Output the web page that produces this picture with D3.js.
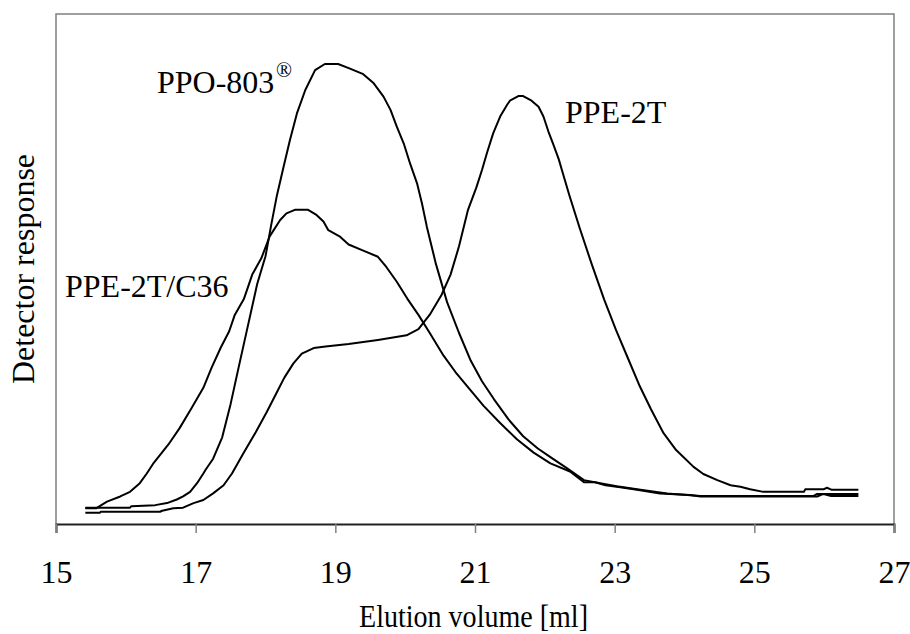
<!DOCTYPE html>
<html>
<head>
<meta charset="utf-8">
<script src="https://cdn.jsdelivr.net/npm/d3@7"></script>
<style>
  html, body { margin: 0; padding: 0; background: #fff; }
  svg { display: block; }
  text { font-family: "Liberation Serif", "Times New Roman", serif; fill: #000; }
</style>
</head>
<body>
<svg id="chart" width="910" height="634"></svg>
<script>
// ---- data (elution volume in ml, detector response in arbitrary units, 0-100 = axis range) ----
const xTicks = [15, 17, 19, 21, 23, 25, 27];
const xTitle = "Elution volume [ml]";
const yTitle = "Detector response";
const labels = ["PPO-803", "PPE-2T", "PPE-2T/C36"];

const ppoVolume = [15.42,16.06,16.08,16.42,16.59,16.73,16.82,16.92,17.02,17.11,17.14,17.25,17.38,17.50,17.62,17.75,17.88,18.00,18.08,18.16,18.26,18.35,18.45,18.57,18.71,18.85,19.04,19.21,19.40,19.55,19.69,19.79,19.88,19.98,20.07,20.17,20.24,20.31,20.44,20.60,20.77,20.94,21.10,21.27,21.48,21.69,21.90,22.08,22.32,22.56,22.79,23.03,23.37,23.75,24.23,25.85,25.90,26.49];
const ppoResponse = [3.2,3.2,3.5,3.7,4.1,4.8,5.4,6.3,8.0,9.9,10.6,12.8,17.0,23.5,31.0,39.0,47.0,52.5,58.5,64.2,70.1,75.3,80.5,85.1,89.0,90.2,90.2,89.3,88.2,86.4,83.8,81.2,77.9,74.6,70.7,66.8,62.9,58.3,51.0,43.5,37.5,32.0,28.0,24.5,20.5,17.2,14.8,13.1,10.9,8.6,8.0,7.4,6.7,6.0,5.5,5.5,5.9,5.9];

const c36Volume = [15.42,15.58,15.73,15.92,16.06,16.20,16.30,16.40,16.61,16.77,16.94,17.11,17.23,17.36,17.48,17.56,17.69,17.81,17.94,18.06,18.21,18.30,18.42,18.61,18.73,18.83,18.90,19.06,19.19,19.40,19.61,19.73,19.88,20.03,20.19,20.35,20.55,20.72,20.92,21.12,21.36,21.60,21.84,22.08,22.36,22.56,22.72,22.87,23.08,23.32,23.65,24.08,24.23,25.90,25.99,26.10,26.49];
const c36Response = [3.1,3.1,4.4,5.4,6.3,8.0,9.9,12.0,15.6,18.8,22.7,26.7,30.7,34.6,37.8,41.0,44.1,48.9,52.1,56.4,59.6,60.9,61.6,61.6,60.6,59.3,57.6,56.4,54.8,53.6,52.4,50.4,47.5,44.2,41.0,37.5,33.0,29.8,26.5,23.2,19.8,16.6,14.0,11.9,10.3,8.2,8.2,7.6,7.2,6.7,6.0,5.7,5.4,5.4,5.9,5.5,5.5];

const ppe2tVolume = [15.42,15.63,15.64,16.49,16.52,16.68,16.82,16.97,17.11,17.25,17.40,17.52,17.69,17.86,18.02,18.15,18.27,18.40,18.52,18.69,18.86,19.19,19.61,20.02,20.19,20.35,20.52,20.65,20.77,20.90,21.02,21.10,21.17,21.26,21.36,21.46,21.50,21.62,21.69,21.81,21.91,21.98,22.05,22.12,22.20,22.24,22.35,22.50,22.67,22.85,23.02,23.19,23.36,23.52,23.70,23.88,23.98,24.13,24.27,24.47,24.66,24.80,24.94,25.13,25.71,25.73,25.99,26.04,26.11,26.49];
const ppe2tResponse = [2.2,2.2,2.4,2.4,2.6,3.1,3.2,4.1,4.7,6.0,7.6,9.9,14.0,18.0,22.0,25.5,28.7,31.5,33.4,34.5,34.8,35.3,36.1,37.0,38.2,41.0,44.9,48.9,54.4,61.6,66.0,69.4,72.7,76.6,79.9,82.2,83.0,83.9,83.9,83.0,81.8,79.9,77.0,74.5,71.5,69.6,64.5,58.0,51.0,44.0,38.0,32.5,27.0,22.5,17.8,14.5,13.2,11.2,9.8,8.6,7.6,7.3,6.8,6.3,6.3,6.8,6.8,7.1,6.7,6.7];

// ---- layout ----
const svg = d3.select("#chart");
const mLeft = 56, mRight = 894, mTop = 14, mBottom = 524;

const x = d3.scaleLinear().domain([15, 27]).range([mLeft, mRight]);
const y = d3.scaleLinear().domain([0, 100]).range([mBottom, mTop]);

// frame (left, top, right in gray)
svg.append("path")
  .attr("d", `M${mLeft},${mBottom} V${mTop} H${mRight} V${mBottom}`)
  .attr("fill", "none").attr("stroke", "#808080").attr("stroke-width", 1.5);

// x axis
const xAxis = d3.axisBottom(x).tickValues(xTicks).tickSize(9).tickPadding(0).tickFormat(d3.format("d"));
const gx = svg.append("g").attr("transform", `translate(0,${mBottom})`).call(xAxis);
gx.select(".domain").attr("stroke", "#222").attr("stroke-width", 2);
gx.selectAll(".tick line").attr("stroke", "#808080").attr("stroke-width", 1.5);
gx.selectAll(".tick text")
  .attr("font-family", "Liberation Serif")
  .attr("font-size", 32)
  .attr("fill", "#000")
  .attr("dy", null)
  .attr("y", 59);

// axis titles
svg.append("text")
  .attr("x", 473.5).attr("y", 626.5)
  .attr("text-anchor", "middle")
  .attr("font-size", 32)
  .attr("textLength", 229).attr("lengthAdjust", "spacingAndGlyphs")
  .text(xTitle);

svg.append("text")
  .attr("transform", "translate(34,269) rotate(-90)")
  .attr("text-anchor", "middle")
  .attr("font-size", 32)
  .text(yTitle);

// curves
const line = d3.line().x(d => x(d[0])).y(d => y(d[1]));
const series = [
  [ppoVolume, ppoResponse],
  [ppe2tVolume, ppe2tResponse],
  [c36Volume, c36Response]
];
series.forEach(([vx, vy]) => {
  svg.append("path")
    .datum(vx.map((v, i) => [v, vy[i]]))
    .attr("d", line)
    .attr("fill", "none")
    .attr("stroke", "#000")
    .attr("stroke-width", 2)
    .attr("stroke-linejoin", "round");
});

// curve labels
svg.append("text").attr("x", 157).attr("y", 93).attr("font-size", 32).text(labels[0]);
svg.append("text").attr("x", 276).attr("y", 77).attr("font-size", 21).text("®");
svg.append("text").attr("x", 565).attr("y", 122.5).attr("font-size", 32).text(labels[1]);
svg.append("text").attr("x", 65).attr("y", 296.5).attr("font-size", 32).text(labels[2]);
</script>
</body>
</html>
